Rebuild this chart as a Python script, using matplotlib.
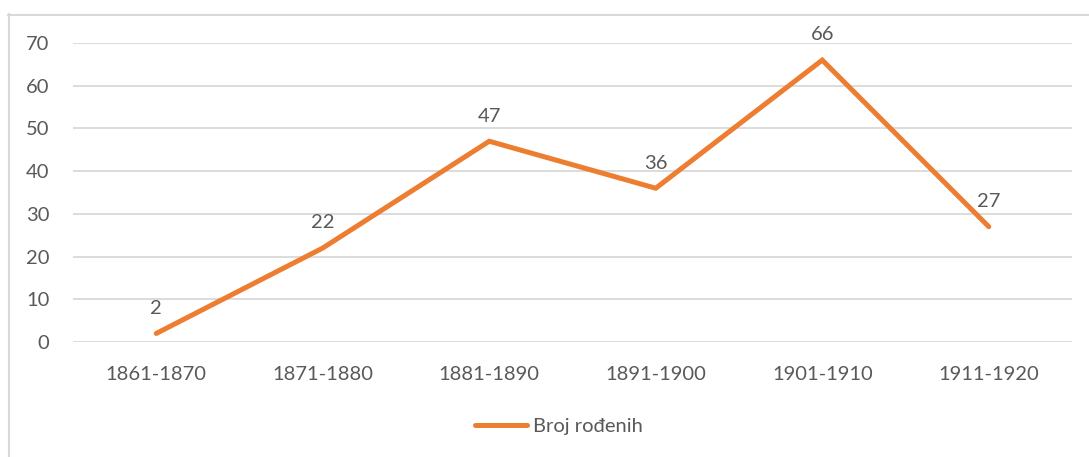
import matplotlib
matplotlib.use('Agg')
import matplotlib.pyplot as plt
from matplotlib.lines import Line2D

# data
periods = ['1861-1870', '1871-1880', '1881-1890', '1891-1900', '1901-1910', '1911-1920']
births = [2, 22, 47, 36, 66, 27]
series_name = 'Broj rođenih'

W, H = 1089, 457
plt.rcParams['font.family'] = ['Lato', 'DejaVu Sans']
txt = '#595959'
orange = '#ED7D31'
fs = 14.5

fig = plt.figure(figsize=(W / 100, H / 100), dpi=100)
ax = fig.add_axes([73 / W, 1 - 342 / H, (1072 - 73) / W, (342 - 43) / H])

x = list(range(len(periods)))
ax.plot(x, births, color=orange, lw=3.6, solid_capstyle='round',
        solid_joinstyle='miter', label=series_name, zorder=3)
for xi, v in zip(x, births):
    ax.annotate(str(v), (xi, v), xytext=(0, 12), textcoords='offset points',
                ha='center', va='bottom', fontsize=fs, color=txt)

ax.set_xlim(-0.5, len(periods) - 0.5)
ax.set_ylim(0, 70)
ax.set_yticks(range(0, 71, 10))
ax.set_xticks(x)
ax.set_xticklabels(periods)
ax.grid(axis='y', color='#D9D9D9', lw=1.3)
ax.set_axisbelow(True)
for s in ax.spines.values():
    s.set_visible(False)
ax.tick_params(length=0, labelsize=fs, colors=txt)
ax.tick_params(axis='y', pad=17)
ax.tick_params(axis='x', pad=17)

leg = fig.legend(handles=[Line2D([0], [0], color=orange, lw=3.6, solid_capstyle='round')],
                 labels=[series_name], loc='center', bbox_to_anchor=(559 / W, 1 - 426 / H),
                 frameon=False, fontsize=fs, handlelength=2.6, handletextpad=0.3)
for t in leg.get_texts():
    t.set_color(txt)

# chart border (left and top edges visible)
fig.add_artist(Line2D([8.5 / W, 8.5 / W], [0, 1 - 14 / H], transform=fig.transFigure,
                      color='#D9D9D9', lw=1.5))
fig.add_artist(Line2D([8 / W, 1], [1 - 14.5 / H, 1 - 14.5 / H], transform=fig.transFigure,
                      color='#D9D9D9', lw=1.5))

fig.savefig('out.png', dpi=100)
